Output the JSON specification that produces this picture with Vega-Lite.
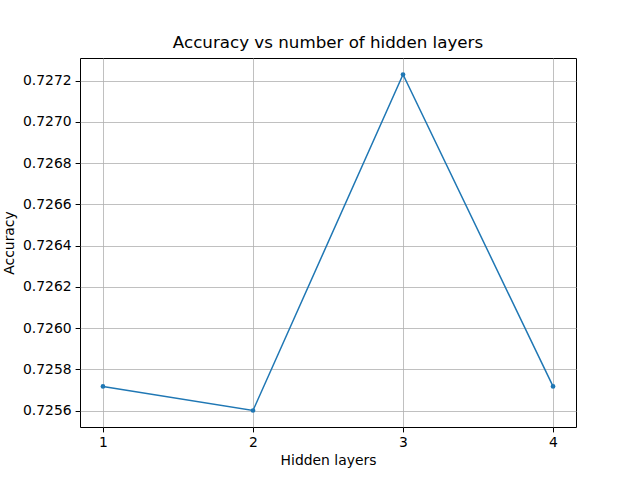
{
  "$schema": "https://vega.github.io/schema/vega-lite/v6.json",
  "width": 496,
  "height": 369,
  "autosize": {"type": "none"},
  "padding": {"left": 80, "top": 58, "right": 64, "bottom": 53},
  "background": "white",
  "title": {"text": "Accuracy vs number of hidden layers", "font": "DejaVu Sans", "fontSize": 16.7, "fontWeight": "normal", "color": "black", "offset": 6},
  "data": {"values": [
    {"layers": 1, "acc": 0.725717},
    {"layers": 2, "acc": 0.7256},
    {"layers": 3, "acc": 0.72723},
    {"layers": 4, "acc": 0.725717}
  ]},
  "mark": {"type": "line", "color": "#1f77b4", "strokeWidth": 1.5, "point": {"filled": true, "size": 22, "color": "#1f77b4"}},
  "encoding": {
    "x": {"field": "layers", "type": "quantitative", "title": "Hidden layers",
      "scale": {"domain": [0.847, 4.153], "nice": false, "zero": false},
      "axis": {"values": [1, 2, 3, 4], "format": "d"}},
    "y": {"field": "acc", "type": "quantitative", "title": "Accuracy",
      "scale": {"domain": [0.72552, 0.72731], "nice": false, "zero": false},
      "axis": {"values": [0.7256, 0.7258, 0.726, 0.7262, 0.7264, 0.7266, 0.7268, 0.727, 0.7272], "format": ".4f"}}
  },
  "config": {
    "view": {"stroke": "black", "strokeWidth": 1},
    "axis": {"grid": true, "gridColor": "#b0b0b0", "gridWidth": 0.8, "domain": false,
      "tickColor": "black", "tickSize": 4.9, "labelFont": "DejaVu Sans", "labelFontSize": 13.9, "labelColor": "black",
      "titleFont": "DejaVu Sans", "titleFontSize": 13.9, "titleFontWeight": "normal", "titleColor": "black", "labelPadding": 4},
    "axisY": {"titlePadding": 6}
  }
}
